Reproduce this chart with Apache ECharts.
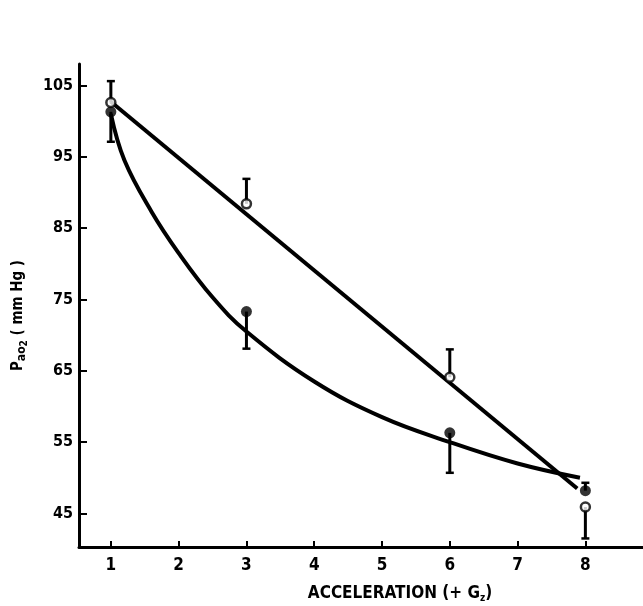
<!DOCTYPE html>
<html>
<head>
<meta charset="utf-8">
<style>
  html, body { margin: 0; padding: 0; background: #fff; }
  #chart { width: 643px; height: 606px; }
</style>
<script src="https://cdn.jsdelivr.net/npm/echarts@6/dist/echarts.min.js"></script>
</head>
<body>
<div id="chart"></div>
<script>
// Data
const accel = [1, 3, 6, 8];
const xTicks = [1, 2, 3, 4, 5, 6, 7, 8];
const yTicks = [45, 55, 65, 75, 85, 95, 105];

// Open circles (straight line group)
const openMean = [102.6, 88.4, 64.1, 45.9];
const openErrEnd = [105.6, 91.9, 68.0, 41.5];
// Filled circles (curved line group)
const filledMean = [101.3, 73.3, 56.3, 48.2];
const filledErrEnd = [97.1, 68.1, 50.7, 49.3];

// Fitted lines
const straightX = [1, 7.88];
const straightY = [102.7, 48.5];
const curveX = [1, 1.2, 1.6, 2, 2.5, 3, 4, 5, 6, 7, 7.92];
const curveY = [101, 94.5, 87.3, 81.5, 75.3, 70.5, 63.5, 58.5, 55, 52, 50];

const zip = (a, b) => a.map((v, i) => [v, b[i]]);
const FONT = '"DejaVu Sans Condensed", "DejaVu Sans", sans-serif';

const errRender = function (params, api) {
  const x = api.value(0), y0 = api.value(1), y1 = api.value(2);
  const p0 = api.coord([x, y0]);
  const p1 = api.coord([x, y1]);
  return {
    type: 'group',
    children: [
      { type: 'line', shape: { x1: p0[0], y1: p0[1], x2: p1[0], y2: p1[1] },
        style: { stroke: '#000', lineWidth: 3 } },
      { type: 'line', shape: { x1: p1[0] - 4, y1: p1[1], x2: p1[0] + 4, y2: p1[1] },
        style: { stroke: '#000', lineWidth: 2.5 } }
    ]
  };
};

const chart = echarts.init(document.getElementById('chart'));
chart.setOption({
  animation: false,
  backgroundColor: '#fff',
  grid: { left: 79, right: 0, top: 64, bottom: 59, outerBoundsMode: 'none', containLabel: false },
  xAxis: {
    type: 'value', min: 0.53, max: 8.85,
    name: 'ACCELERATION (+ G{sub|z})',
    nameLocation: 'middle', nameGap: 37,
    nameTextStyle: {
      fontFamily: FONT, fontWeight: 'bold', fontSize: 17, color: '#000',
      padding: [0, 0, 0, 78],
      rich: { sub: { fontFamily: FONT, fontWeight: 'bold', fontSize: 10, color: '#000', verticalAlign: 'bottom', padding: [9, 0, 0, 0] } }
    },
    splitLine: { show: false },
    axisLine: { onZero: false, lineStyle: { color: '#000', width: 3 } },
    axisTick: { show: true, inside: true, length: 6, customValues: xTicks, lineStyle: { color: '#000', width: 2 } },
    axisLabel: { customValues: xTicks, margin: 10, color: '#000', fontFamily: FONT, fontWeight: 'bold', fontSize: 17 }
  },
  yAxis: {
    type: 'value', min: 40.3, max: 108,
    name: 'P{sub|ao}{sub2|2} ( mm Hg )',
    nameLocation: 'middle', nameGap: 50, nameRotate: 90,
    nameTextStyle: {
      fontFamily: FONT, fontWeight: 'bold', fontSize: 15, color: '#000',
      padding: [0, 20, 0, 0],
      rich: {
        sub: { fontFamily: FONT, fontWeight: 'bold', fontSize: 12, color: '#000', padding: [6, 0, 0, 0] },
        sub2: { fontFamily: FONT, fontWeight: 'bold', fontSize: 10, color: '#000', padding: [11, 0, 0, 0] }
      }
    },
    splitLine: { show: false },
    axisLine: { onZero: false, lineStyle: { color: '#000', width: 3 } },
    axisTick: { show: true, inside: true, length: 8, customValues: yTicks, lineStyle: { color: '#000', width: 2 } },
    axisLabel: { customValues: yTicks, margin: 6, color: '#000', fontFamily: FONT, fontWeight: 'bold', fontSize: 16 }
  },
  series: [
    { type: 'line', data: zip(straightX, straightY), symbol: 'none',
      lineStyle: { color: '#000', width: 4 }, z: 2 },
    { type: 'line', data: zip(curveX, curveY), symbol: 'none', smooth: 0.4,
      lineStyle: { color: '#000', width: 4 }, z: 2 },
    { type: 'custom', renderItem: errRender,
      data: accel.map((x, i) => [x, openMean[i], openErrEnd[i]]), z: 3 },
    { type: 'custom', renderItem: errRender,
      data: accel.map((x, i) => [x, filledMean[i], filledErrEnd[i]]), z: 3 },
    { type: 'scatter', data: zip(accel, filledMean), symbol: 'circle', symbolSize: 11,
      itemStyle: { color: '#000' }, z: 4 },
    { type: 'scatter', data: zip(accel, openMean), symbol: 'circle', symbolSize: 9,
      itemStyle: { color: '#fff', borderColor: '#000', borderWidth: 2.5 }, z: 5 }
  ]
});
</script>
</body>
</html>
